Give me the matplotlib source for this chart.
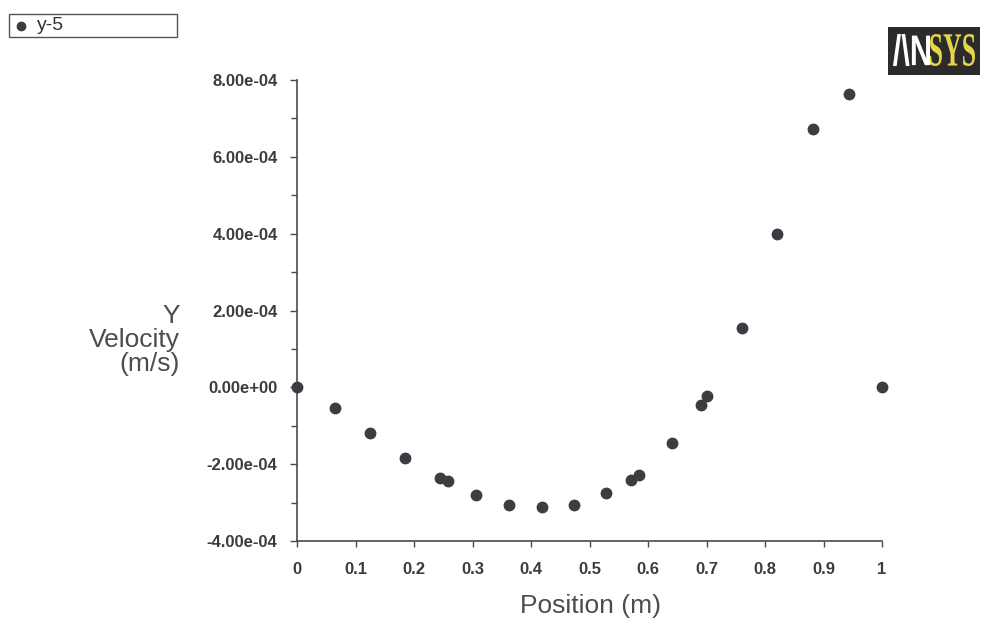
"""
Y velocity along line y-5 (ANSYS Fluent style XY plot).
"""
import matplotlib

matplotlib.use("Agg")
import matplotlib.pyplot as plt
from matplotlib.font_manager import FontProperties
from matplotlib.lines import Line2D
from matplotlib.patches import PathPatch, Rectangle
from matplotlib.textpath import TextPath
from matplotlib.transforms import Affine2D

# data
position = [0.0, 0.065, 0.125, 0.185, 0.244, 0.258, 0.306, 0.362, 0.419, 0.474,
            0.528, 0.571, 0.585, 0.641, 0.691, 0.701, 0.761, 0.821, 0.882, 0.944, 1.0]
y_velocity = [0.0, -0.55e-4, -1.20e-4, -1.85e-4, -2.37e-4, -2.45e-4, -2.79e-4, -3.05e-4,
              -3.12e-4, -3.05e-4, -2.76e-4, -2.40e-4, -2.29e-4, -1.46e-4, -0.47e-4,
              -0.23e-4, 1.54e-4, 3.98e-4, 6.72e-4, 7.63e-4, 0.0]
series_name = "y-5"
x_ticks = [0, 0.1, 0.2, 0.3, 0.4, 0.5, 0.6, 0.7, 0.8, 0.9, 1.0]
x_tick_labels = ["0", "0.1", "0.2", "0.3", "0.4", "0.5", "0.6", "0.7", "0.8", "0.9", "1"]
y_ticks = [-4e-4, -2e-4, 0.0, 2e-4, 4e-4, 6e-4, 8e-4]
y_tick_labels = ["-4.00e-04", "-2.00e-04", "0.00e+00", "2.00e-04", "4.00e-04", "6.00e-04", "8.00e-04"]
y_minor = [-3e-4, -1e-4, 1e-4, 3e-4, 5e-4, 7e-4]

W, H = 990, 624
AXC = "#4a4a4a"
DOT = "#3a3d42"
plt.rcParams["font.family"] = ["Liberation Sans", "DejaVu Sans"]

fig = plt.figure(figsize=(W / 100, H / 100), dpi=100)
ax = fig.add_axes([297 / W, 1 - 541 / H, 585 / W, 461 / H])

ax.plot(position, y_velocity, "o", color=DOT, markersize=7.5, clip_on=False, zorder=3)

ax.set_xlim(0, 1)
ax.set_ylim(-4e-4, 8e-4)
ax.set_xticks(x_ticks)
ax.set_xticklabels(x_tick_labels)
ax.set_yticks(y_ticks)
ax.set_yticklabels(y_tick_labels)
ax.set_yticks(y_minor, minor=True)

for s in ("top", "right"):
    ax.spines[s].set_visible(False)
for s in ("left", "bottom"):
    ax.spines[s].set_color(AXC)
    ax.spines[s].set_linewidth(1.2)

ax.tick_params(axis="both", which="both", direction="out", color=AXC, width=1.0,
               labelcolor="#3c3c3c", labelsize=12)
ax.tick_params(axis="y", which="major", length=5, pad=9)
ax.tick_params(axis="y", which="minor", length=4)
ax.tick_params(axis="x", which="major", length=4, pad=11)
for lab in ax.get_xticklabels() + ax.get_yticklabels():
    lab.set_fontweight("bold")

fig.text(180 / W, 1 - 340 / H, "Y\nVelocity\n(m/s)", ha="right", va="center",
         multialignment="right", fontsize=19, color="#4d4d4d", linespacing=1.0)
fig.text(590 / W, 1 - 606 / H, "Position (m)", ha="center", va="center",
         fontsize=19, color="#4d4d4d")

# legend box (top left)
fig.add_artist(Rectangle((9 / W, 1 - 37 / H), 168 / W, 23 / H, transform=fig.transFigure,
                         facecolor="white", edgecolor="#555555", linewidth=1.0))
fig.add_artist(Line2D([21 / W], [1 - 26 / H], marker="o", markersize=6, color=DOT,
                      linestyle="none", transform=fig.transFigure))
fig.text(37 / W, 1 - 26 / H, series_name, ha="left", va="center", fontsize=14, color="#333333")

# ANSYS logo (top right)
lax = fig.add_axes([888 / W, 1 - 75 / H, 92 / W, 48 / H])
lax.set_xlim(0, 92)
lax.set_ylim(0, 48)
lax.axis("off")
lax.add_patch(Rectangle((0, 0), 92, 48, facecolor="#2b2b2b", edgecolor="none"))


def fit_text(a, txt, family, box, color):
    tp = TextPath((0, 0), txt, size=1, prop=FontProperties(family=family, weight="bold"))
    ext = tp.get_extents()
    x0, y0, x1, y1 = box
    tr = Affine2D().translate(-ext.x0, -ext.y0).scale((x1 - x0) / ext.width,
                                                      (y1 - y0) / ext.height).translate(x0, y0)
    a.add_patch(PathPatch(tr.transform_path(tp), facecolor=color, edgecolor="none"))


fit_text(lax, "/\\N", "Liberation Sans", (5, 9, 42, 41), "white")
fit_text(lax, "SYS", "Liberation Serif", (42, 9, 87, 41), "#e6d54a")

fig.savefig("out.png", dpi=100)
